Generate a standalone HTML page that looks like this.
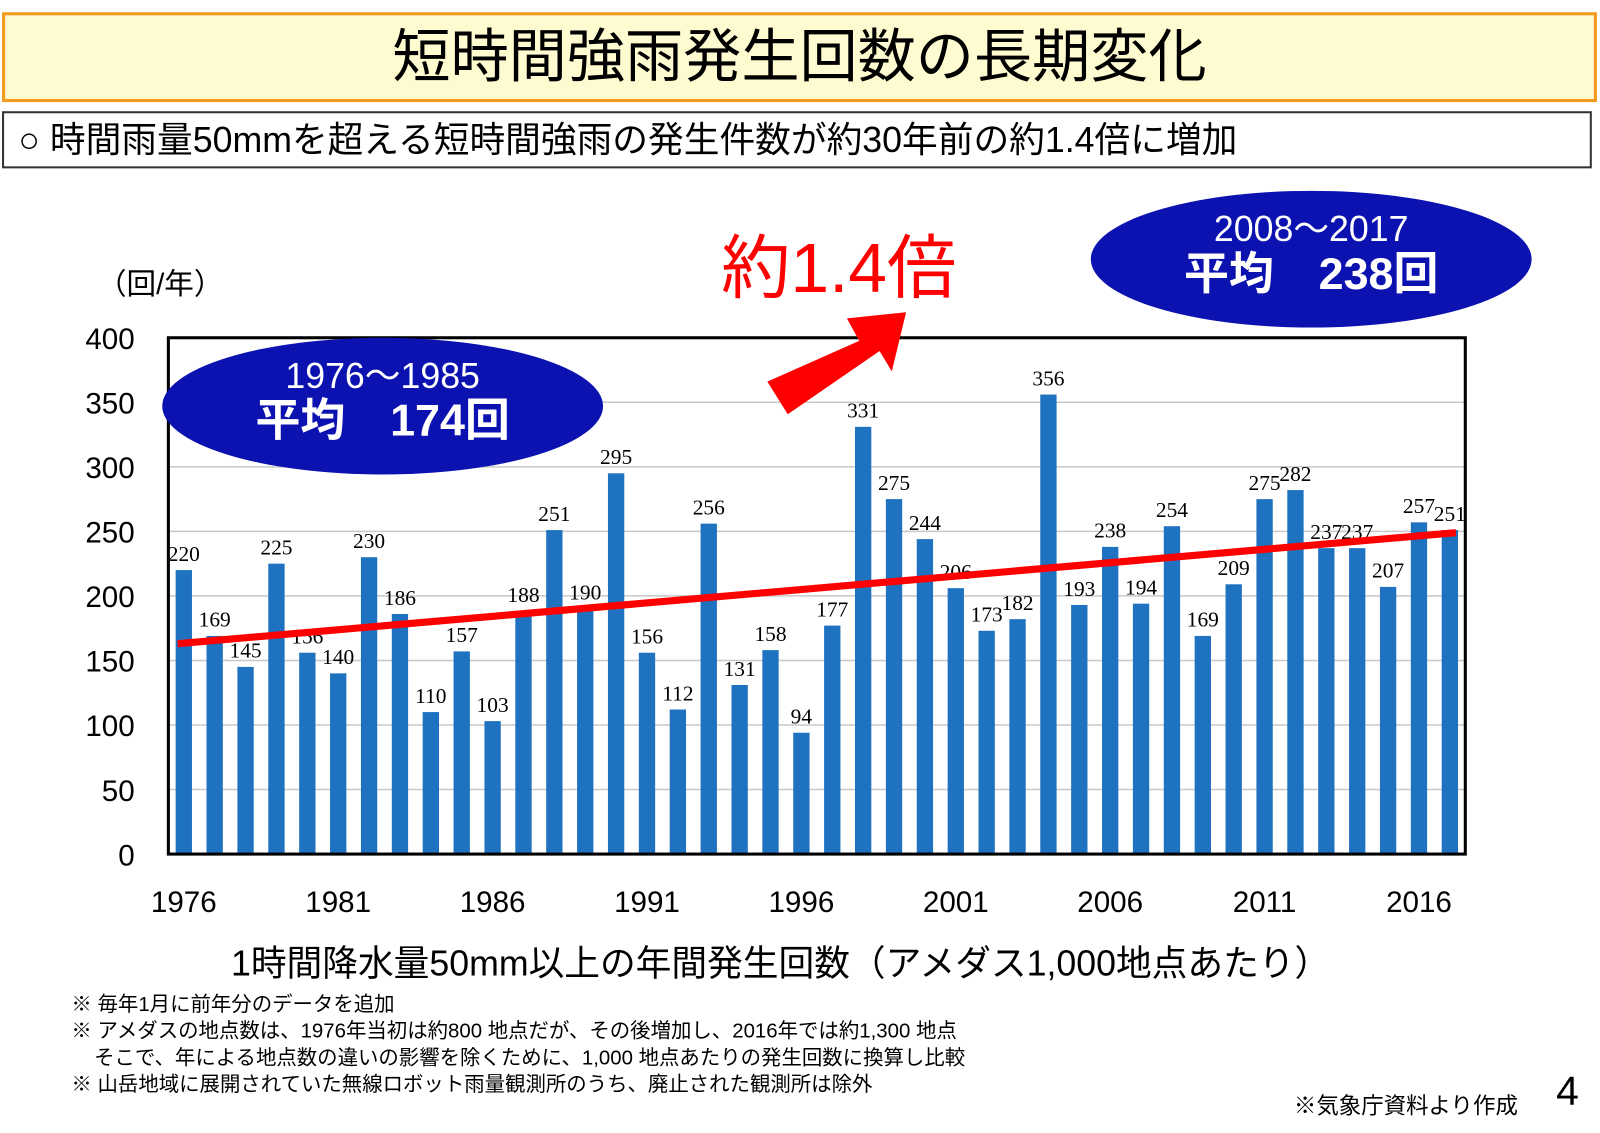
<!DOCTYPE html>
<html><head><meta charset="utf-8"><style>
body{margin:0;width:1600px;height:1132px;background:#fff;overflow:hidden;font-family:"Liberation Sans","Noto Sans CJK JP",sans-serif;position:relative}
#wrap{position:absolute;left:0;top:0;width:1568px;height:1110px;transform:scale(1.0204);transform-origin:0 0}
.abs{position:absolute}
</style></head><body>
<div id="wrap">
<div class="abs" style="left:2px;top:12px;width:1557px;height:82px;background:#fffbd0;border:3px solid #f39a1e;text-align:center;font-size:57px;line-height:82px;color:#000">短時間強雨発生回数の長期変化</div>
<div class="abs" style="left:2px;top:109px;width:1558px;height:56px;border:2px solid #333;font-size:35px;line-height:54px;padding-left:14px;box-sizing:border-box;white-space:nowrap">○ 時間雨量50mmを超える短時間強雨の発生件数が約30年前の約1.4倍に増加</div>
<svg class="abs" style="left:0;top:0" width="1568" height="1110">
<g id="grid"></g><g id="bars"></g><g id="labels"></g><g id="axes"></g>
</svg>
<div class="abs" style="left:70px;top:972px;font-size:20px;line-height:26px;white-space:nowrap">※ 毎年1月に前年分のデータを追加<br>※ アメダスの地点数は、1976年当初は約800 地点だが、その後増加し、2016年では約1,300 地点<br>&nbsp;&nbsp;&nbsp;&nbsp;そこで、年による地点数の違いの影響を除くために、1,000 地点あたりの発生回数に換算し比較<br>※ 山岳地域に展開されていた無線ロボット雨量観測所のうち、廃止された観測所は除外</div>
<div class="abs" style="left:1268px;top:1066px;font-size:22px;white-space:nowrap">※気象庁資料より作成</div>
<div class="abs" style="left:1525px;top:1048px;font-size:40px">4</div>
</div>
<script>
const years=[1976,1977,1978,1979,1980,1981,1982,1983,1984,1985,1986,1987,1988,1989,1990,1991,1992,1993,1994,1995,1996,1997,1998,1999,2000,2001,2002,2003,2004,2005,2006,2007,2008,2009,2010,2011,2012,2013,2014,2015,2016,2017];
const values=[220,169,145,225,156,140,230,186,110,157,103,188,251,190,295,156,112,256,131,158,94,177,331,275,244,206,173,182,356,193,238,194,254,169,209,275,282,237,237,207,257,251];
const yTicks=[0,50,100,150,200,250,300,350,400];
const xTickYears=[1976,1981,1986,1991,1996,2001,2006,2011,2016];
const trend=[163,249];
const NS='http://www.w3.org/2000/svg';
const L=165,R=1436,T=331,B=837;
const slot=(R-L)/years.length;
const x=i=>L+slot*(i+0.5);
const y=v=>B-(v/400)*(B-T);
function mk(t,a,p){const e=document.createElementNS(NS,t);for(const k in a)e.setAttribute(k,a[k]);p.appendChild(e);return e;}
const grid=document.getElementById('grid'),bars=document.getElementById('bars'),lab=document.getElementById('labels'),ax=document.getElementById('axes');
yTicks.forEach(v=>{
 if(v>0&&v<400){const g=mk('line',{x1:L,x2:R,y1:y(v),y2:y(v),stroke:'#c8c8c8','stroke-width':1.5},grid);
 
 }
 const t=mk('text',{x:132,y:y(v)+11,'text-anchor':'end','font-size':29},ax);t.textContent=v;
 
 
});
const f=mk('rect',{x:L,y:T,width:R-L,height:B-T,fill:'none',stroke:'#000','stroke-width':3},ax);


values.forEach((v,i)=>{
 const r=mk('rect',{x:x(i)-8,y:y(v),width:16,height:B-y(v),fill:'#1f72c0'},bars);
 
 
 const t=mk('text',{x:x(i),y:y(v)-9,'text-anchor':'middle','font-size':21,'font-family':'Liberation Serif, serif'},lab);t.textContent=v;
 
 
});
xTickYears.forEach(yr=>{const i=years.indexOf(yr);
 const t=mk('text',{x:x(i),y:894,'text-anchor':'middle','font-size':29},ax);t.textContent=yr;
 
 });
const tl=mk('line',{x1:x(0)-6,y1:y(trend[0]),x2:x(years.length-1)+6,y2:y(trend[1]),stroke:'#ff0000','stroke-width':7},ax);


const u=mk('text',{x:95,y:288,'font-size':29},ax);u.textContent='（回/年）';


const xt=mk('text',{x:765,y:956,'text-anchor':'middle','font-size':35},ax);xt.textContent='1時間降水量50mm以上の年間発生回数（アメダス1,000地点あたり）';


const e1=mk('ellipse',{cx:375,cy:398,rx:216,ry:67,fill:'#0b12b0'},ax);


let t1=mk('text',{x:375,y:380,'text-anchor':'middle','font-size':35,fill:'#fff'},ax);t1.textContent='1976～1985';


let t2=mk('text',{x:375,y:427,'text-anchor':'middle','font-size':44,'font-weight':'bold',fill:'#fff'},ax);t2.textContent='平均　174回';


const e2=mk('ellipse',{cx:1285,cy:254,rx:216,ry:67,fill:'#0b12b0'},ax);


let t3=mk('text',{x:1285,y:236,'text-anchor':'middle','font-size':35,fill:'#fff'},ax);t3.textContent='2008～2017';


let t4=mk('text',{x:1285,y:283,'text-anchor':'middle','font-size':44,'font-weight':'bold',fill:'#fff'},ax);t4.textContent='平均　238回';


const ar=mk('polygon',{points:'752,374 842,334 830,312 888,306 874,364 862,344 772,406',fill:'#ff0000'},ax);


let t5=mk('text',{x:822,y:286,'text-anchor':'middle','font-size':68,fill:'#ff0000'},ax);t5.textContent='約1.4倍';


</script>
</body></html>
